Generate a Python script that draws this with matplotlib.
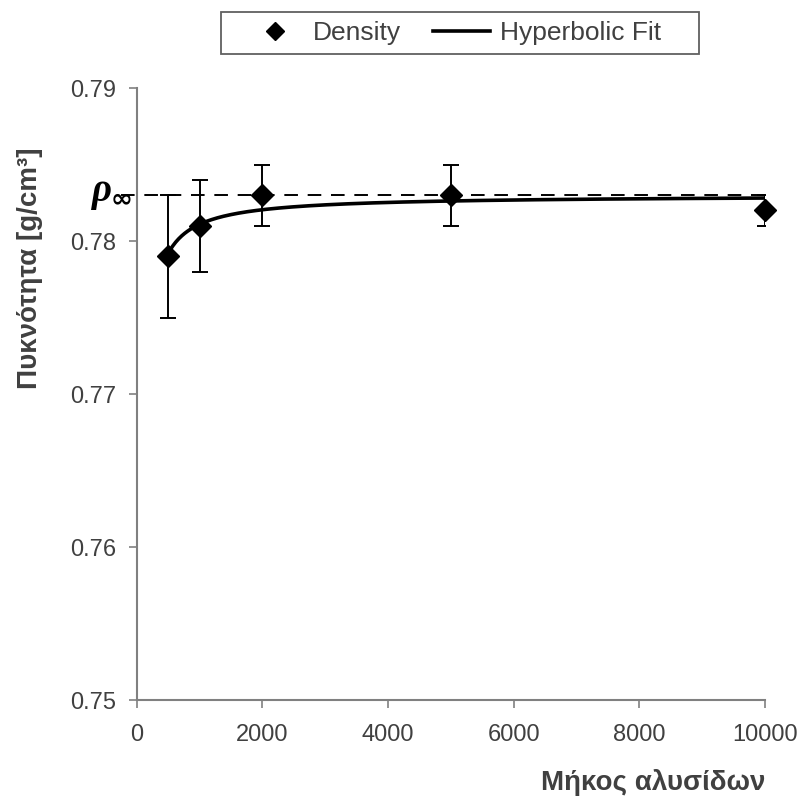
import numpy as np
import matplotlib.pyplot as plt
from matplotlib.patches import Rectangle

plt.rcParams['font.family'] = ['Liberation Sans', 'DejaVu Sans']

# measured densities
chain_length = [500, 1000, 2000, 5000, 10000]
density = [0.779, 0.781, 0.783, 0.783, 0.782]
density_err = [0.004, 0.003, 0.002, 0.002, 0.001]

# hyperbolic fit  rho = rho_inf * N / (b + N), parameters
rho_inf = 0.7830
fit_b = 2.44

label_col = '#404040'
axis_col = '#808080'

fig = plt.figure(figsize=(8, 7.96), dpi=100)
ax = fig.add_axes([0.171, 0.1206, 0.785, 0.7688])

n = np.linspace(chain_length[0], chain_length[-1], 400)
fit_line, = ax.plot(n, rho_inf * n / (fit_b + n), color='black', lw=2.6, zorder=3,
                    label='Hyperbolic Fit')

ax.axhline(rho_inf, xmin=-0.025, xmax=1.0, color='black', lw=1.4,
           dashes=(7, 5), clip_on=False, zorder=2)

ax.errorbar(chain_length, density, yerr=density_err, fmt='none', ecolor='black',
            elinewidth=1.4, capsize=6, capthick=1.4, zorder=4)
pts, = ax.plot(chain_length, density, 'D', color='black', ms=11, zorder=5,
               clip_on=False, label='Density')

ax.set_xlim(0, 10000)
ax.set_ylim(0.75, 0.79)
ax.set_xticks(range(0, 10001, 2000))
ax.set_yticks([0.75, 0.76, 0.77, 0.78, 0.79])
ax.set_yticklabels(['0.75', '0.76', '0.77', '0.78', '0.79'])

for s in ['top', 'right']:
    ax.spines[s].set_visible(False)
for s in ['left', 'bottom']:
    ax.spines[s].set_color(axis_col)
    ax.spines[s].set_linewidth(1.5)
ax.tick_params(axis='both', colors=axis_col, labelcolor=label_col,
               labelsize=17, length=6, width=1.2)
ax.tick_params(axis='x', pad=11)
ax.tick_params(axis='y', pad=9)

ax.set_ylabel('Πυκνότητα [g/cm³]', fontsize=20, fontweight='bold',
              color=label_col)
ax.yaxis.set_label_coords(-0.150, 0.706)
ax.set_xlabel('Μήκος αλυσίδων', fontsize=20, fontweight='bold',
              color=label_col)
ax.xaxis.set_label_coords(0.823, -0.112)

# rho_inf label next to the dashed line
ax.annotate('ρ', xy=(0, rho_inf), xycoords=('axes fraction', 'data'),
            xytext=(-18, -4.5), textcoords='offset points', ha='right',
            va='baseline', fontsize=28, fontweight='bold', style='italic',
            family=['Liberation Serif', 'DejaVu Serif'], color='black',
            annotation_clip=False)
ax.annotate('∞', xy=(0, rho_inf), xycoords=('axes fraction', 'data'),
            xytext=(-18.5, -3), textcoords='offset points', ha='left',
            va='center', fontsize=19, fontweight='heavy',
            family=['DejaVu Sans'], color='black', annotation_clip=False)

leg = fig.legend(handles=[pts, fit_line], loc='center',
                 bbox_to_anchor=(0.567, 0.9585), ncol=2, fontsize=19,
                 frameon=False, handlelength=2.15, handletextpad=0.37,
                 columnspacing=1.22, borderpad=0.0, markerscale=0.8)
for t in leg.get_texts():
    t.set_color(label_col)
# legend box
fig.patches.append(Rectangle((221 / 800, 1 - 54 / 796), 478 / 800, 42 / 796,
                             transform=fig.transFigure, fill=False,
                             edgecolor='#606060', linewidth=1.3))

fig.savefig('out.png', dpi=100)
